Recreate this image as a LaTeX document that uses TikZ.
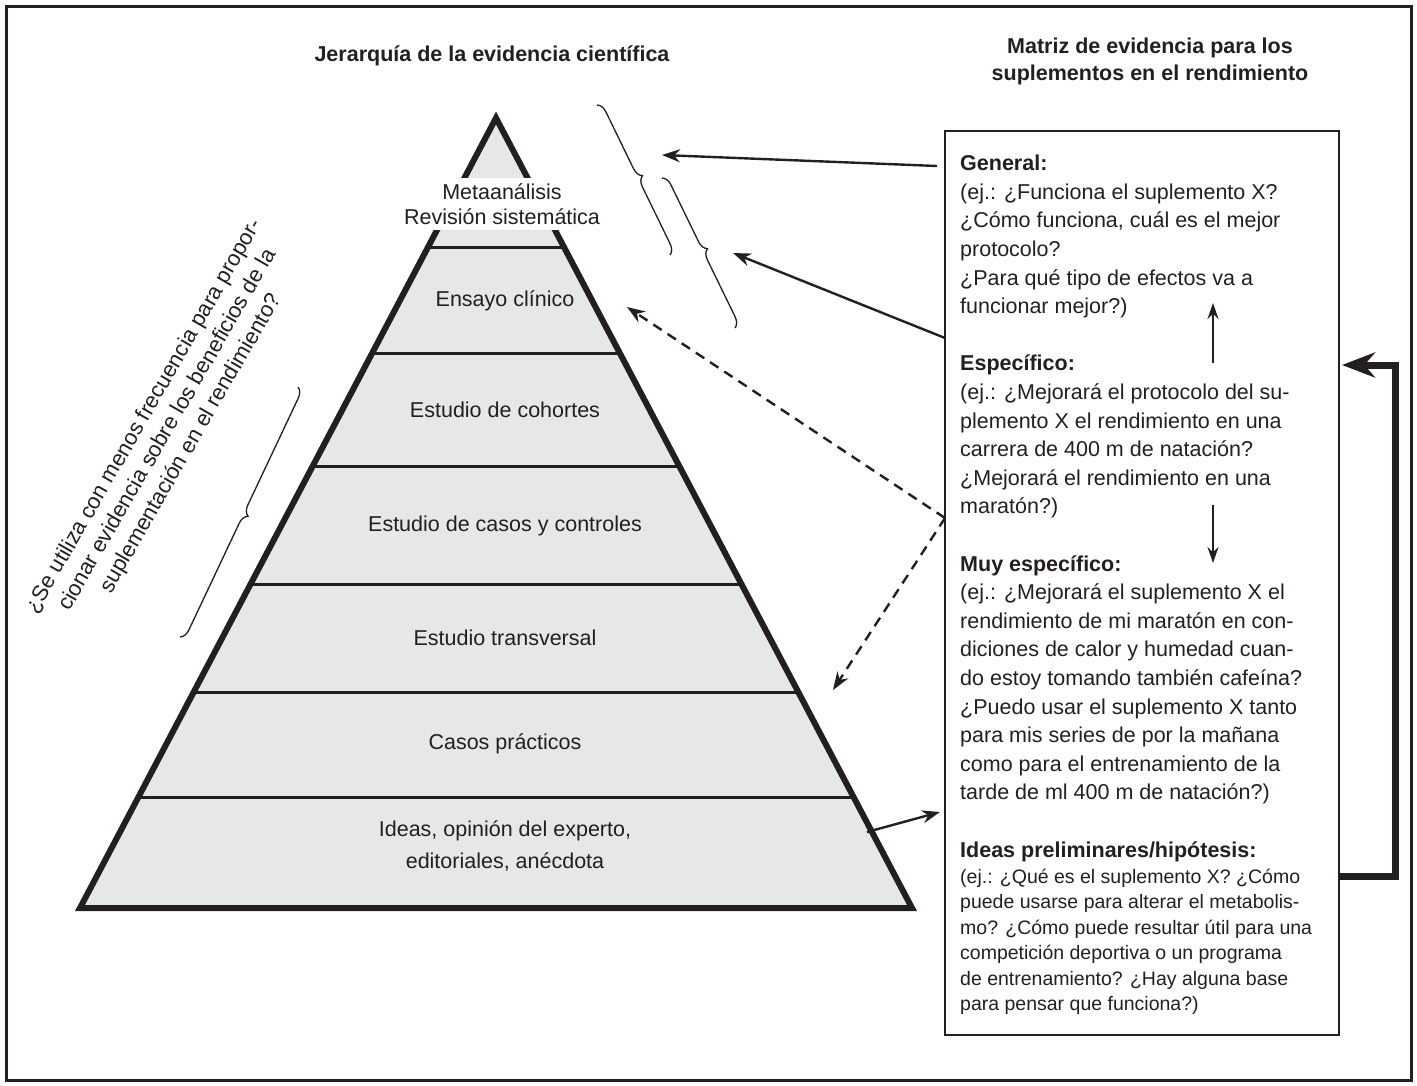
\documentclass[tikz,border=0pt]{standalone}
\usepackage{fontspec}
\setmainfont{Liberation Sans}
\usetikzlibrary{arrows.meta,decorations.pathreplacing,calc}
\definecolor{ink}{HTML}{231F20}
\definecolor{pyr}{HTML}{E6E7E8}
\tikzset{
 lbl/.style={font=\fontsize{21.5}{25}\selectfont, text=ink, inner sep=0pt, align=center},
 ttl/.style={font=\bfseries\fontsize{21.5}{27}\selectfont, text=ink, inner sep=0pt, align=center},
 body/.style={font=\fontsize{21.5}{28.6}\selectfont, text=ink, inner sep=0pt, align=left, anchor=north west},
 smalltext/.style={font=\fontsize{19.5}{25.5}\selectfont, text=ink, inner sep=0pt, align=left, anchor=north west},
 arr/.style={line width=2.4, draw=ink, -{Stealth[length=18pt,width=13pt]}},
 darr/.style={arr, dash pattern=on 10pt off 7pt},
 brc/.style={line width=1.3, draw=ink, decorate, decoration={brace, amplitude=10pt, aspect=0.5}},
 layer/.style={line width=3, draw=ink},
}
\begin{document}
\begin{tikzpicture}[x=1pt,y=-1pt]
\useasboundingbox (0,0) rectangle (1417,1085);
% outer frame
\draw[line width=3, draw=ink] (6,6) rectangle (1411,1080);

% titles
\node[ttl] (t1) at (492,56) {Jerarquía de la evidencia científica};
\node[ttl] (t2) at (1150,61) {Matriz de evidencia para los\\suplementos en el rendimiento};

% pyramid
\coordinate (A) at (496,118);
\coordinate (BL) at (80,908);
\coordinate (BR) at (912,908);
\fill[pyr] (A) -- (BL) -- (BR) -- cycle;
\foreach \t in {0.1633,0.2975,0.4405,0.5911,0.7266,0.8595}
  \draw[layer] ($(A)!\t!(BL)$) -- ($(A)!\t!(BR)$);
\draw[line width=6, draw=ink, line join=miter] (A) -- (BL) -- (BR) -- cycle;

\node[lbl, fill=white, inner xsep=2pt, inner ysep=5pt] (meta) at (502,204) {Metaanálisis\\Revisión sistemática};
\node[lbl] (ens) at (505,301) {Ensayo clínico};
\node[lbl] (coh) at (505,410) {Estudio de cohortes};
\node[lbl] (cyc) at (505,526) {Estudio de casos y controles};
\node[lbl] (tra) at (505,638) {Estudio transversal};
\node[lbl] (cpr) at (505,744) {Casos prácticos};
\node[lbl, font=\fontsize{21.5}{32}\selectfont] (ide) at (505,846) {Ideas, opinión del experto,\\editoriales, anécdota};

% side question
\node[lbl, font=\fontsize{22}{27}\selectfont, rotate=60] (side) at (168,430) {¿Se utiliza con menos frecuencia para propor-\\cionar evidencia sobre los beneficios de la\\suplementación en el rendimiento?};

% braces
\draw[brc] (298,387) -- (180,637);
\draw[brc] (597,105) -- (670,255);
\draw[brc] (662,178) -- (735,328);

% matrix box
\draw[line width=2.5, draw=ink] (945,131) rectangle (1339,1035);
\node[body] (mtx) at (960,150.5) {\rule{0pt}{20pt}\textbf{General:}\\
(ej.: ¿Funciona el suplemento X?\\
¿Cómo funciona, cuál es el mejor\\
protocolo?\\
¿Para qué tipo de efectos va a\\
funcionar mejor?)\\[28.6pt]
\textbf{Específico:}\\
(ej.: ¿Mejorará el protocolo del su-\\
plemento X el rendimiento en una\\
carrera de 400 m de natación?\\
¿Mejorará el rendimiento en una\\
maratón?)\\[28.6pt]
\textbf{Muy específico:}\\
(ej.: ¿Mejorará el suplemento X el\\
rendimiento de mi maratón en con-\\
diciones de calor y humedad cuan-\\
do estoy tomando también cafeína?\\
¿Puedo usar el suplemento X tanto\\
para mis series de por la mañana\\
como para el entrenamiento de la\\
tarde de ml 400 m de natación?)\\[28.6pt]
\textbf{Ideas preliminares/hipótesis:}};
\node[smalltext] (idp) at (960,865) {\rule{0pt}{18pt}(ej.: ¿Qué es el suplemento X? ¿Cómo\\
puede usarse para alterar el metabolis-\\
mo? ¿Cómo puede resultar útil para una\\
competición deportiva o un programa\\
de entrenamiento? ¿Hay alguna base\\
para pensar que funciona?)};

% arrow coordinates
\coordinate (g0) at (937,166);  \coordinate (g1) at (662,155);
\coordinate (e0) at (945,338);  \coordinate (e1) at (733,253);
\coordinate (m0) at (945,518);  \coordinate (m1) at (627,307); \coordinate (m2) at (833,690);
\coordinate (i0) at (867,832);  \coordinate (i1) at (940,812);
\coordinate (u0) at (1213,363); \coordinate (u1) at (1213,303);
\coordinate (d0) at (1213,505); \coordinate (d1) at (1213,563);
\coordinate (k0) at (1339,876); \coordinate (k1) at (1395,876);
\coordinate (k2) at (1395,365); \coordinate (k3) at (1342,365);

\draw[arr] (g0) -- (g1);
\draw[arr] (e0) -- (e1);
\draw[darr] (m0) -- (m1);
\draw[darr] (m0) -- (m2);
\draw[arr] (i0) -- (i1);
\draw[arr, line width=2, -{Stealth[length=16pt,width=11pt]}] (u0) -- (u1);
\draw[arr, line width=2, -{Stealth[length=16pt,width=11pt]}] (d0) -- (d1);
\draw[line width=7, draw=ink, line join=miter, -{Stealth[length=33pt,width=25pt]}] (k0) -- (k1) -- (k2) -- (k3);
\end{tikzpicture}
\end{document}
